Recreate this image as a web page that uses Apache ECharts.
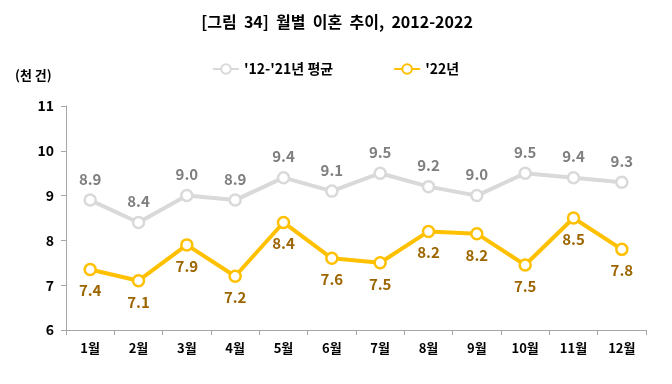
<!DOCTYPE html>
<html><head><meta charset="utf-8">
<script src="https://cdn.jsdelivr.net/npm/echarts@6/dist/echarts.min.js"></script>
<style>html,body{margin:0;padding:0;background:#fff}#c{width:672px;height:384px}</style>
</head><body><div id="c"></div>
<script>
const categories = ['1월','2월','3월','4월','5월','6월','7월','8월','9월','10월','11월','12월'];
const avgName = "'12-'21년 평균";
const curName = "'22년";
const avgValues = [8.9, 8.4, 9.0, 8.9, 9.4, 9.1, 9.5, 9.2, 9.0, 9.5, 9.4, 9.3];
const curValues = [7.35, 7.1, 7.9, 7.2, 8.4, 7.6, 7.5, 8.2, 8.15, 7.45, 8.5, 7.8];
const titleText = '[그림  34]  월별  이혼  추이,  2012-2022';
const unitText = '(천 건)';

const FF = '"Noto Sans CJK KR", "Noto Sans", sans-serif';
const chart = echarts.init(document.getElementById('c'));
chart.setOption({
  animation: false,
  title: [
    {text: titleText, left: 332, top: 9, textAlign: 'center',
     textStyle: {fontFamily: FF, fontSize: 16, fontWeight: 'bold', color: '#000'}},
    {text: unitText, left: 10, top: 64,
     textStyle: {fontFamily: FF, fontSize: 13, fontWeight: 'bold', color: '#000'}}
  ],
  legend: {
    top: 57, left: 207, itemGap: 60, itemWidth: 26, itemHeight: 12,
    textStyle: {fontFamily: FF, fontSize: 14, fontWeight: 'bold', color: '#000'},
    data: [avgName, curName]
  },
  grid: {left: 66, right: 26, top: 106, bottom: 54},
  xAxis: {
    type: 'category', data: categories, boundaryGap: true,
    axisLine: {lineStyle: {color: '#a6a6a6'}},
    axisTick: {show: true, alignWithLabel: false, length: 5, lineStyle: {color: '#a6a6a6'}},
    axisLabel: {fontFamily: FF, fontSize: 13, fontWeight: 'bold', color: '#000', margin: 12}
  },
  yAxis: {
    type: 'value', min: 6, max: 11, interval: 1,
    axisLine: {show: true, lineStyle: {color: '#a6a6a6'}},
    axisTick: {show: true, length: 5, lineStyle: {color: '#a6a6a6'}},
    splitLine: {show: false},
    axisLabel: {fontFamily: FF, fontSize: 14, fontWeight: 'bold', color: '#000', margin: 12}
  },
  series: [
    {name: avgName, type: 'line', data: avgValues, symbol: 'circle', symbolSize: 11,
     lineStyle: {color: '#d9d9d9', width: 4},
     itemStyle: {color: '#fff', borderColor: '#d9d9d9', borderWidth: 2.5},
     label: {show: true, position: 'top', distance: 7, fontFamily: FF, fontSize: 15, fontWeight: 'bold', color: '#7f7f7f',
       formatter: p => p.value.toFixed(1)}},
    {name: curName, type: 'line', data: curValues, symbol: 'circle', symbolSize: 11,
     lineStyle: {color: '#ffc000', width: 4},
     itemStyle: {color: '#fff', borderColor: '#ffc000', borderWidth: 2.5},
     label: {show: true, position: 'bottom', distance: 7, fontFamily: FF, fontSize: 15, fontWeight: 'bold', color: '#9c6500',
       formatter: p => (Math.round(p.value * 10 + 0.01) / 10).toFixed(1)}}
  ]
});
</script></body></html>
